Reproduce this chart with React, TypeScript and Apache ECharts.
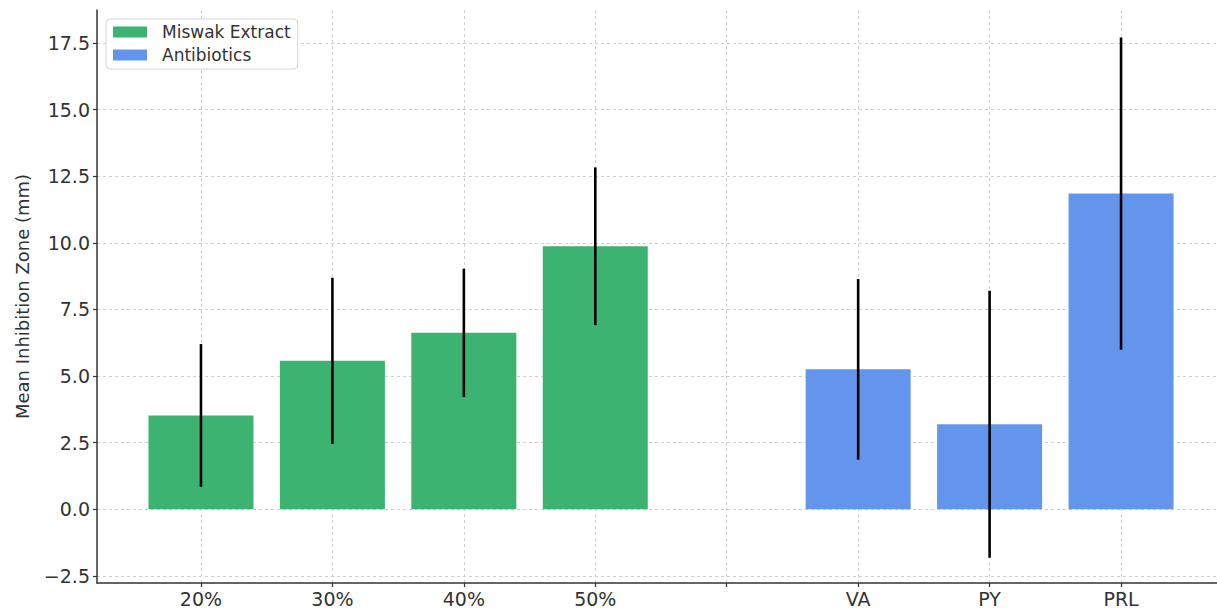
import React, { useEffect, useRef } from "react";
import * as echarts from "echarts";

const categories = ["20%", "30%", "40%", "50%", "", "VA", "PY", "PRL"];
const miswakPositions = [0, 1, 2, 3];
const miswakMeans = [3.52, 5.57, 6.62, 9.87];
const miswakSd = [2.68, 3.12, 2.41, 2.96];
const antibioticPositions = [5, 6, 7];
const antibioticMeans = [5.25, 3.19, 11.85];
const antibioticSd = [3.39, 5.01, 5.86];
const yTicks = [-2.5, 0, 2.5, 5, 7.5, 10, 12.5, 15, 17.5];
const xTicks = [0, 1, 2, 3, 4, 5, 6, 7];

const FONT = "'DejaVu Sans', sans-serif";

export default function App() {
  const ref = useRef<HTMLDivElement>(null);
  useEffect(() => {
    document.body.style.margin = "0";
    const chart = echarts.init(ref.current!, null, { renderer: "svg" });
    const errData = [
      ...miswakPositions.map((x, i) => [x, miswakMeans[i] - miswakSd[i], miswakMeans[i] + miswakSd[i]]),
      ...antibioticPositions.map((x, i) => [x, antibioticMeans[i] - antibioticSd[i], antibioticMeans[i] + antibioticSd[i]]),
    ];
    const gridLine = { show: true, lineStyle: { color: "#d0d0d0", width: 1, type: [3, 3] as any } };
    chart.setOption({
      animation: false,
      backgroundColor: "#ffffff",
      textStyle: { fontFamily: FONT },
      grid: { left: 97, right: 0, top: 10, bottom: 23, containLabel: false },
      legend: {
        orient: "vertical",
        left: 106,
        top: 19,
        icon: "rect",
        itemWidth: 34,
        itemHeight: 11,
        itemGap: 3,
        padding: [3, 7, 4, 7],
        backgroundColor: "rgba(255,255,255,0.85)",
        borderColor: "#d6d6d6",
        borderWidth: 1,
        borderRadius: 4,
        textStyle: { fontFamily: FONT, fontSize: 17, color: "#333", lineHeight: 20, padding: [0, 0, 0, 10] },
        data: ["Miswak Extract", "Antibiotics"],
      },
      xAxis: {
        type: "value",
        min: -0.791,
        max: 7.73,
        axisLine: { show: true, onZero: false, lineStyle: { color: "#333", width: 1.5 } },
        axisTick: { show: true, length: 4, customValues: xTicks, lineStyle: { color: "#333", width: 1.2 } },
        axisLabel: {
          customValues: xTicks,
          margin: 6,
          fontSize: 19,
          color: "#333",
          fontFamily: FONT,
          formatter: (v: number) => categories[Math.round(v)] ?? "",
        },
        splitLine: gridLine,
      },
      yAxis: {
        type: "value",
        min: -2.77,
        max: 18.74,
        name: "Mean Inhibition Zone (mm)",
        nameLocation: "middle",
        nameGap: 66,
        nameTextStyle: { fontSize: 18, color: "#333", fontFamily: FONT },
        axisLine: { show: true, onZero: false, lineStyle: { color: "#333", width: 1.5 } },
        axisTick: { show: true, length: 4, customValues: yTicks, lineStyle: { color: "#333", width: 1.2 } },
        axisLabel: {
          customValues: yTicks,
          margin: 7,
          fontSize: 19,
          color: "#333",
          fontFamily: FONT,
          formatter: (v: number) => v.toFixed(1).replace("-", "\u2212"),
        },
        splitLine: gridLine,
      },
      series: [
        {
          name: "Miswak Extract",
          type: "bar",
          barWidth: 105,
          barGap: "-100%",
          itemStyle: { color: "#3cb371" },
          data: miswakPositions.map((x, i) => [x, miswakMeans[i]]),
        },
        {
          name: "Antibiotics",
          type: "bar",
          barWidth: 105,
          barGap: "-100%",
          itemStyle: { color: "#6495ed" },
          data: antibioticPositions.map((x, i) => [x, antibioticMeans[i]]),
        },
        {
          name: "err",
          type: "custom",
          z: 10,
          data: errData,
          renderItem: (params: any, api: any) => {
            const p1 = api.coord([api.value(0), api.value(1)]);
            const p2 = api.coord([api.value(0), api.value(2)]);
            return {
              type: "line",
              shape: { x1: p1[0], y1: p1[1], x2: p2[0], y2: p2[1] },
              style: { stroke: "#000", lineWidth: 2.6 },
            };
          },
        },
      ],
    });
    return () => chart.dispose();
  }, []);
  return <div ref={ref} style={{ width: 1217, height: 608 }} />;
}
